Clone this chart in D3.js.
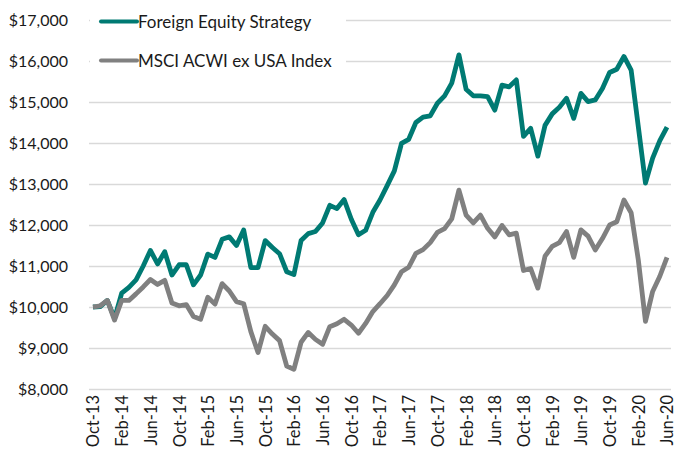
<!DOCTYPE html>
<html>
<head>
<meta charset="utf-8">
<script src="https://cdn.jsdelivr.net/npm/d3@7"></script>
<style>
  body { margin: 0; background: #fff; }
  svg text { font-family: Lato, "Open Sans", sans-serif; fill: #1a1a1a; }
</style>
</head>
<body>
<div id="chart"></div>
<script>
// Growth of $10,000, monthly Oct-13 .. Jun-20
const tickLabels = ["Oct-13", "Feb-14", "Jun-14", "Oct-14", "Feb-15", "Jun-15", "Oct-15",
    "Feb-16", "Jun-16", "Oct-16", "Feb-17", "Jun-17", "Oct-17", "Feb-18", "Jun-18",
    "Oct-18", "Feb-19", "Jun-19", "Oct-19", "Feb-20", "Jun-20"];

const seriesNames = ["Foreign Equity Strategy", "MSCI ACWI ex USA Index"];

const strategyValues = [
    10000, 10010, 10160, 9720, 10340, 10480, 10660, 11000, 11380, 11050,
    11350, 10780, 11030, 11030, 10540, 10780, 11290, 11210, 11650, 11710,
    11500, 11880, 10960, 10960, 11620, 11450, 11300, 10860, 10790, 11620,
    11790, 11840, 12050, 12480, 12400, 12620, 12140, 11760, 11870, 12310,
    12610, 12960, 13320, 13990, 14090, 14500, 14630, 14660, 14970, 15150,
    15460, 16150, 15310, 15150, 15150, 15130, 14800, 15410, 15370, 15540,
    14160, 14360, 13680, 14430, 14710, 14870, 15090, 14600, 15210, 15010,
    15050, 15330, 15720, 15800, 16110, 15780, 14400, 13020, 13630, 14060,
    14390
];

const indexValues = [
    10000, 10030, 10160, 9680, 10160, 10160, 10320, 10490, 10670, 10550,
    10650, 10100, 10030, 10060, 9770, 9700, 10240, 10070, 10570, 10390,
    10130, 10080, 9400, 8890, 9530, 9340, 9180, 8560, 8480, 9140,
    9380, 9210, 9090, 9520, 9590, 9700, 9560, 9360, 9600, 9890,
    10080, 10280, 10540, 10860, 10970, 11310, 11400, 11570, 11820, 11910,
    12150, 12850, 12240, 12050, 12240, 11920, 11710, 11990, 11760, 11800,
    10890, 10940, 10460, 11240, 11480, 11570, 11840, 11210, 11880, 11730,
    11390, 11670, 12000, 12080, 12610, 12300, 11150, 9650, 10380, 10750,
    11210
];

const yTicks = [8000, 9000, 10000, 11000, 12000, 13000, 14000, 15000, 16000, 17000];

const colors = ["#007a73", "#808080"];

function drawChart() {
    const W = 676, H = 454;

    const svg = d3.select("#chart")
        .append("svg")
        .attr("width", W)
        .attr("height", H);

    // Echelles
    const x = d3.scaleLinear()
        .domain([0, strategyValues.length - 1])
        .range([93, 667]);

    const y = d3.scaleLinear()
        .domain([8000, 17000])
        .range([389, 20]);

    // Grille horizontale + labels Y
    const yAxis = svg.append("g")
        .attr("transform", "translate(89,0)")
        .call(d3.axisLeft(y)
            .tickValues(yTicks)
            .tickSize(-582)
            .tickPadding(21)
            .tickFormat(d3.format("$,")));

    yAxis.select(".domain").remove();
    yAxis.selectAll(".tick line")
        .attr("stroke", "#d9d9d9")
        .attr("stroke-width", 1.5);
    yAxis.selectAll(".tick text")
        .style("font-size", "16px")
        .style("font-family", "Lato, sans-serif");

    // Axe X (labels pivotés)
    const xAxis = svg.append("g")
        .attr("transform", "translate(0,392)")
        .call(d3.axisBottom(x)
            .tickValues(d3.range(0, strategyValues.length, 4))
            .tickSize(0)
            .tickFormat(i => tickLabels[i / 4]));

    xAxis.select(".domain").remove();
    xAxis.selectAll(".tick text")
        .style("font-size", "16.5px")
        .style("font-family", "Lato, sans-serif")
        .attr("text-anchor", "end")
        .attr("transform", "rotate(-90)")
        .attr("x", -3)
        .attr("y", 0)
        .attr("dy", "0.36em");

    // Légende (fond blanc qui masque la grille)
    const legend = svg.append("g");

    legend.append("rect")
        .attr("x", 90)
        .attr("y", 0)
        .attr("width", 256)
        .attr("height", 78)
        .attr("fill", "#fff");

    const items = legend.selectAll(".legend-item")
        .data(seriesNames)
        .enter()
        .append("g")
        .attr("class", "legend-item")
        .attr("transform", (d, i) => `translate(0, ${21.5 + i * 39})`);

    items.append("line")
        .attr("x1", 101)
        .attr("x2", 137)
        .attr("y1", 0)
        .attr("y2", 0)
        .attr("stroke", (d, i) => colors[i])
        .attr("stroke-width", 4)
        .attr("stroke-linecap", "round");

    items.append("text")
        .attr("x", 138)
        .attr("y", 0)
        .attr("dy", "0.36em")
        .style("font-size", "17px")
        .text(d => d);

    // Lignes
    const line = d3.line()
        .x((d, i) => x(i))
        .y(d => y(d));

    const series = [strategyValues, indexValues];

    svg.selectAll(".series-line")
        .data(series)
        .enter()
        .append("path")
        .attr("class", "series-line")
        .attr("d", d => line(d))
        .attr("fill", "none")
        .attr("stroke", (d, i) => colors[i])
        .attr("stroke-width", 4.8)
        .attr("stroke-linejoin", "round");
}

drawChart();
</script>
</body>
</html>
